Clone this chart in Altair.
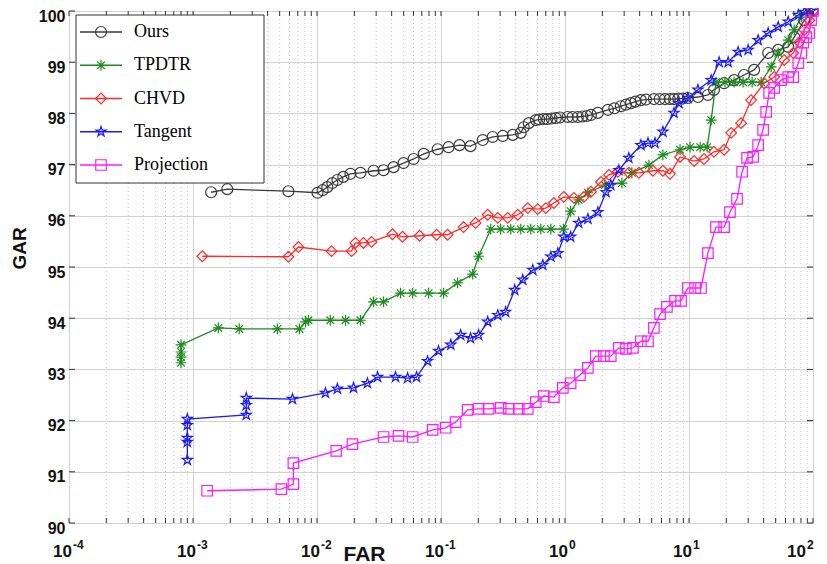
import altair as alt
import pandas as pd

series_names = ["Ours", "TPDTR", "CHVD", "Tangent", "Projection"]
series_colors = ["#3c3c3c", "#1e8c1e", "#ff2a2a", "#1a1aff", "#ff1aff"]
asterisk = "M0,-1L0,1M-1,0L1,0M-0.7,-0.7L0.7,0.7M-0.7,0.7L0.7,-0.7"
pentagram = ("M0,-1L0.225,-0.309L0.951,-0.309L0.363,0.118L0.588,0.809L0,0.382"
             "L-0.588,0.809L-0.363,0.118L-0.951,-0.309L-0.225,-0.309Z")
series_shapes = ["circle", asterisk, "diamond", pentagram, "square"]
series_sizes = [120, 110, 180, 190, 121]

# (FAR, GAR) pairs
ours = [(0.0014, 96.46), (0.00189, 96.52), (0.00588, 96.48), (0.0101, 96.45), (0.0111, 96.50),
        (0.0121, 96.56), (0.0133, 96.64), (0.0146, 96.70), (0.0163, 96.76), (0.0186, 96.82),
        (0.0224, 96.84), (0.0286, 96.88), (0.0344, 96.89), (0.0414, 96.95), (0.0499, 97.03),
        (0.0601, 97.11), (0.0726, 97.21), (0.094, 97.30), (0.115, 97.34), (0.141, 97.38),
        (0.173, 97.36), (0.217, 97.48), (0.261, 97.54), (0.315, 97.56), (0.379, 97.58),
        (0.44, 97.62), (0.465, 97.73), (0.51, 97.81), (0.582, 97.87), (0.62, 97.88),
        (0.674, 97.89), (0.72, 97.89), (0.78, 97.90), (0.844, 97.91), (0.91, 97.92),
        (1.05, 97.93), (1.15, 97.93), (1.27, 97.93), (1.38, 97.94), (1.5, 97.95),
        (1.62, 97.97), (1.84, 98.01), (2.22, 98.07), (2.5, 98.10), (2.82, 98.14),
        (3.1, 98.17), (3.40, 98.20), (3.7, 98.23), (4.09, 98.26), (4.5, 98.27),
        (5.21, 98.28), (5.8, 98.28), (6.4, 98.28), (7.0, 98.28), (7.57, 98.28),
        (8.2, 98.29), (8.9, 98.29), (9.79, 98.30), (11.8, 98.32), (14.2, 98.36),
        (15.9, 98.46), (19.2, 98.59), (23.1, 98.65), (27.8, 98.75), (33.5, 98.85),
        (43.5, 99.18), (52.4, 99.24), (63.1, 99.30), (70.6, 99.49), (85.1, 99.82), (100, 100.0)]

tpdtr = [(0.0008, 93.13), (0.0008, 93.24), (0.0008, 93.34), (0.0008, 93.48), (0.0016, 93.81),
         (0.00236, 93.79), (0.00479, 93.79), (0.00721, 93.79), (0.00808, 93.93), (0.00854, 93.96),
         (0.0128, 93.96), (0.017, 93.96), (0.0224, 93.96), (0.0286, 94.32), (0.0344, 94.32),
         (0.0472, 94.49), (0.0591, 94.49), (0.0795, 94.49), (0.105, 94.49), (0.136, 94.69),
         (0.180, 94.86), (0.201, 95.21), (0.252, 95.74), (0.303, 95.74), (0.365, 95.74),
         (0.44, 95.74), (0.53, 95.74), (0.638, 95.74), (0.769, 95.74), (0.97, 95.74),
         (1.11, 96.09), (1.29, 96.31), (1.53, 96.45), (2.10, 96.60), (2.88, 96.64),
         (3.46, 96.84), (4.75, 96.99), (6.16, 97.19), (8.47, 97.29), (10.2, 97.34),
         (12.3, 97.34), (14.0, 97.34), (15.1, 97.87), (16.5, 98.61), (19.5, 98.61),
         (23.1, 98.61), (27.3, 98.61), (32.3, 98.61), (38.2, 98.61), (46.0, 98.91),
         (52.4, 99.18), (63.1, 99.43), (70.6, 99.63), (80.4, 99.88), (91.5, 100.0)]

chvd = [(0.00119, 95.21), (0.00588, 95.20), (0.00709, 95.39), (0.0131, 95.31), (0.019, 95.31),
        (0.0204, 95.47), (0.0237, 95.47), (0.0275, 95.49), (0.0406, 95.64), (0.049, 95.59),
        (0.0672, 95.61), (0.0922, 95.63), (0.113, 95.63), (0.152, 95.78), (0.190, 95.86),
        (0.238, 96.02), (0.287, 95.96), (0.345, 95.96), (0.416, 96.02), (0.501, 96.15),
        (0.603, 96.13), (0.700, 96.15), (0.813, 96.25), (0.978, 96.37), (1.18, 96.35),
        (1.42, 96.37), (1.62, 96.47), (1.95, 96.66), (2.26, 96.80), (2.67, 96.86),
        (3.27, 96.84), (3.95, 96.84), (5.12, 96.88), (6.16, 96.88), (7.03, 96.82),
        (8.47, 97.15), (11.0, 97.07), (13.2, 97.11), (15.9, 97.25), (19.2, 97.29),
        (21.9, 97.62), (26.3, 97.81), (31.7, 98.26), (40.4, 98.59), (48.7, 98.71),
        (58.6, 99.04), (69.3, 99.18), (77.5, 99.39), (85.1, 99.63), (93.4, 99.82), (100, 100.0)]

tangent = [(0.0009, 91.23), (0.0009, 91.58), (0.0009, 91.66), (0.0009, 91.91), (0.0009, 92.03),
           (0.00269, 92.11), (0.00269, 92.30), (0.00269, 92.44), (0.00634, 92.42), (0.0117, 92.54),
           (0.0146, 92.62), (0.0197, 92.64), (0.0255, 92.73), (0.0308, 92.85), (0.043, 92.85),
           (0.0538, 92.83), (0.0635, 92.85), (0.0779, 93.16), (0.0955, 93.36), (0.120, 93.48),
           (0.144, 93.67), (0.173, 93.61), (0.201, 93.67), (0.238, 93.93), (0.287, 94.06),
           (0.332, 94.12), (0.393, 94.55), (0.456, 94.75), (0.550, 94.94), (0.662, 95.04),
           (0.769, 95.20), (0.876, 95.27), (0.978, 95.59), (1.11, 95.59), (1.29, 95.86),
           (1.53, 95.94), (1.84, 96.07), (2.14, 96.46), (2.34, 96.60), (2.72, 96.89),
           (3.27, 97.13), (4.09, 97.38), (4.67, 97.42), (5.32, 97.42), (6.16, 97.64),
           (7.57, 98.01), (8.29, 98.20), (9.79, 98.30), (11.8, 98.46), (15.1, 98.65),
           (17.5, 99.00), (20.7, 99.00), (24.9, 99.20), (30.0, 99.24), (36.1, 99.43),
           (43.5, 99.57), (52.4, 99.69), (63.1, 99.79), (76.1, 99.92), (85.1, 99.98), (96.5, 100.0)]

projection = [(0.0013, 90.63), (0.00516, 90.66), (0.00645, 90.76), (0.00645, 91.17), (0.0143, 91.41),
              (0.0193, 91.54), (0.0344, 91.68), (0.0454, 91.70), (0.0591, 91.68), (0.0857, 91.82),
              (0.109, 91.86), (0.131, 91.97), (0.164, 92.21), (0.201, 92.23), (0.242, 92.23),
              (0.303, 92.25), (0.352, 92.23), (0.424, 92.23), (0.501, 92.23), (0.581, 92.36),
              (0.674, 92.48), (0.813, 92.46), (0.961, 92.64), (1.11, 92.73), (1.32, 92.89),
              (1.53, 93.03), (1.77, 93.26), (2.06, 93.26), (2.34, 93.26), (2.72, 93.42),
              (3.10, 93.40), (3.53, 93.42), (4.09, 93.55), (4.67, 93.55), (5.21, 93.81),
              (5.84, 94.08), (6.64, 94.22), (7.72, 94.34), (8.63, 94.34), (9.79, 94.59),
              (11.2, 94.59), (12.5, 94.59), (14.2, 95.27), (16.5, 95.78), (19.2, 95.78),
              (21.4, 96.07), (24.4, 96.33), (26.8, 96.86), (29.4, 97.13), (32.9, 97.15),
              (36.1, 97.38), (39.6, 97.68), (41.9, 98.03), (44.3, 98.40), (48.7, 98.50),
              (55.3, 98.65), (63.1, 98.71), (69.3, 98.71), (76.1, 98.98), (80.4, 99.18),
              (83.4, 99.38), (88.3, 99.49), (93.4, 99.57), (96.5, 99.82), (100, 100.0)]

decades = [1e-4, 1e-3, 1e-2, 1e-1, 1e0, 1e1, 1e2]
exponents = ["-4", "-3", "-2", "-1", "0", "1", "2"]
minor_ticks = [m * d for d in decades[:-1] for m in range(2, 10)]
gar_ticks = list(range(90, 101))

W, H = 744, 512

rows = []
for name, pts in zip(series_names, [ours, tpdtr, chvd, tangent, projection]):
    for i, (f, g) in enumerate(pts):
        rows.append({"series": name, "i": i, "far": f, "gar": g})
df = pd.DataFrame(rows)

color_scale = alt.Scale(domain=series_names, range=series_colors)
shape_scale = alt.Scale(domain=series_names, range=series_shapes)
size_scale = alt.Scale(domain=series_names, range=series_sizes)

x_enc = alt.X("far:Q", scale=alt.Scale(type="log", domain=[1e-4, 1e2], nice=False),
              axis=alt.Axis(values=decades, labels=False, ticks=False, tickSize=0,
                            domain=False, grid=True, gridColor="#d2d2d2", gridWidth=1,
                            title="FAR", titleFont="Liberation Sans", titleFontSize=21,
                            titleFontWeight="bold", titleColor="#111", titleX=295, titleY=37,
                            titleAlign="center", titleBaseline="alphabetic"))
y_enc = alt.Y("gar:Q", scale=alt.Scale(domain=[90, 100], nice=False, zero=False),
              axis=alt.Axis(values=gar_ticks, labelFontSize=16, labelFont="Liberation Sans",
                            labelFontWeight="bold", labelColor="#111", labelPadding=4,
                            labelOffset=5, labelFlush=False, ticks=False, tickSize=0,
                            domain=False, grid=True, gridColor="#d2d2d2", gridWidth=1,
                            title="GAR", titleFont="Liberation Sans", titleFontSize=19,
                            titleFontWeight="bold", titleColor="#111", titleAngle=270,
                            titleX=-50, titleY=237, titleAlign="center", titleBaseline="middle"))

minor_df = pd.DataFrame({"far": minor_ticks})
minor_grid = alt.Chart(minor_df).mark_rule(color="#c4c4c4", strokeDash=[1, 3], strokeWidth=1).encode(
    x=alt.X("far:Q"))

lines = alt.Chart(df).mark_line(strokeWidth=1.3).encode(
    x=x_enc, y=y_enc,
    color=alt.Color("series:N", scale=color_scale, legend=None),
    detail="series:N", order="i:Q")

points = alt.Chart(df).mark_point(filled=False, strokeWidth=1.2, opacity=1).encode(
    x="far:Q", y="gar:Q",
    color=alt.Color("series:N", scale=color_scale, legend=None),
    shape=alt.Shape("series:N", scale=shape_scale, legend=None),
    size=alt.Size("series:N", scale=size_scale, legend=None))

xt_df = pd.DataFrame({"far": decades + minor_ticks})
xt_bottom = alt.Chart(xt_df).mark_rule(color="#333", strokeWidth=1).encode(
    x="far:Q", y=alt.value(H), y2=alt.value(H - 5))
xt_top = alt.Chart(xt_df).mark_rule(color="#333", strokeWidth=1).encode(
    x="far:Q", y=alt.value(0), y2=alt.value(5))
yt_df = pd.DataFrame({"gar": gar_ticks})
yt_left = alt.Chart(yt_df).mark_rule(color="#333", strokeWidth=1).encode(
    y="gar:Q", x=alt.value(0), x2=alt.value(6))
yt_right = alt.Chart(yt_df).mark_rule(color="#333", strokeWidth=1).encode(
    y="gar:Q", x=alt.value(W), x2=alt.value(W - 6))

# x tick labels: "10" base plus superscript exponent
exp_df = pd.DataFrame({"far": decades, "e": exponents})
lab_style = dict(font="Liberation Sans", fontWeight="bold", color="#111", baseline="alphabetic")
base_main = alt.Chart(exp_df).transform_filter("datum.far < 50").mark_text(
    align="right", dx=3, fontSize=17, **lab_style).encode(
    x="far:Q", y=alt.value(H + 34), text=alt.value("10"))
exp_main = alt.Chart(exp_df).transform_filter("datum.far < 50").mark_text(
    align="left", dx=4, fontSize=12, **lab_style).encode(
    x="far:Q", y=alt.value(H + 26), text="e:N")
base_last = alt.Chart(exp_df).transform_filter("datum.far >= 50").mark_text(
    align="right", dx=-7, fontSize=17, **lab_style).encode(
    x="far:Q", y=alt.value(H + 34), text=alt.value("10"))
exp_last = alt.Chart(exp_df).transform_filter("datum.far >= 50").mark_text(
    align="left", dx=-6, fontSize=12, **lab_style).encode(
    x="far:Q", y=alt.value(H + 26), text="e:N")

layers = [minor_grid, lines, points, xt_bottom, xt_top, yt_left, yt_right,
          base_main, exp_main, base_last, exp_last]

# legend box
box = alt.Chart(pd.DataFrame({"k": [0]})).mark_rect(fill="white", stroke="#333", strokeWidth=1).encode(
    x=alt.value(7), x2=alt.value(195), y=alt.value(4), y2=alt.value(172))
layers.append(box)
for k, name in enumerate(series_names):
    ly = 21 + k * 33.25
    one = pd.DataFrame({"series": [name]})
    layers.append(alt.Chart(one).mark_rule(strokeWidth=1.3).encode(
        x=alt.value(11), x2=alt.value(53), y=alt.value(ly),
        color=alt.Color("series:N", scale=color_scale, legend=None)))
    layers.append(alt.Chart(one).mark_point(filled=False, strokeWidth=1.2, opacity=1).encode(
        x=alt.value(32), y=alt.value(ly),
        color=alt.Color("series:N", scale=color_scale, legend=None),
        shape=alt.Shape("series:N", scale=shape_scale, legend=None),
        size=alt.Size("series:N", scale=size_scale, legend=None)))
    layers.append(alt.Chart(one).mark_text(align="left", baseline="middle", font="Liberation Serif",
                                          fontSize=18, color="black").encode(
        x=alt.value(65), y=alt.value(ly), text="series:N"))

chart = alt.layer(*layers).properties(
    width=W, height=H,
    autosize=alt.AutoSizeParams(type="none"),
    padding={"left": 61, "top": 3, "right": 6, "bottom": 41},
).configure_view(stroke="#2b2b2b", strokeWidth=1.3).configure(background="white")

chart.save("out.html", embed_options={"renderer": "svg", "actions": False})
